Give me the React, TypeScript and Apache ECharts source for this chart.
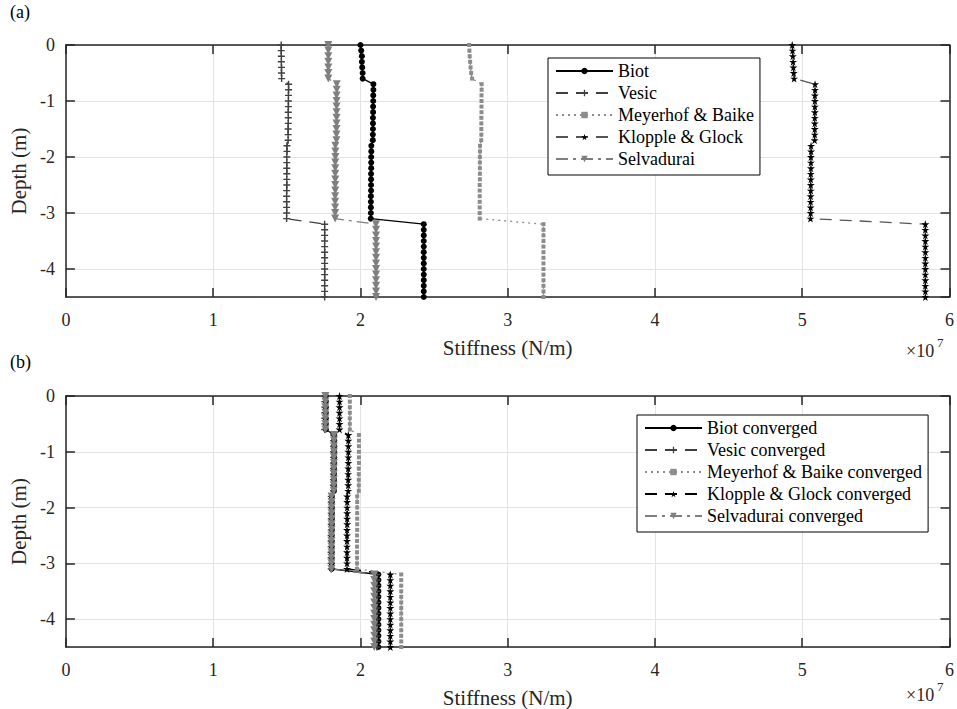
import React, { useEffect, useRef } from "react";
import * as echarts from "echarts";

// Depth of each node (m)
const DEPTHS = [
  0, -0.1, -0.2, -0.3, -0.4, -0.5, -0.6,
  -0.7, -0.8, -0.9, -1.0, -1.1, -1.2, -1.3, -1.4, -1.5, -1.6, -1.7,
  -1.8, -1.9, -2.0, -2.1, -2.2, -2.3, -2.4, -2.5, -2.6, -2.7, -2.8, -2.9, -3.0, -3.1,
  -3.2, -3.3, -3.4, -3.5, -3.6, -3.7, -3.8, -3.9, -4.0, -4.1, -4.2, -4.3, -4.4, -4.5,
];

// Panel (a) stiffness (x 1e7 N/m)
const BIOT = [
  2.0, 2.005, 2.01, 2.01, 2.012, 2.015, 2.015,
  2.088, 2.088, 2.087, 2.087, 2.086, 2.086, 2.085, 2.085, 2.085, 2.084, 2.084,
  2.074, 2.074, 2.073, 2.073, 2.073, 2.072, 2.072, 2.072, 2.072, 2.071, 2.071, 2.071, 2.071, 2.07,
  2.43, 2.43, 2.43, 2.43, 2.43, 2.43, 2.43, 2.43, 2.43, 2.43, 2.43, 2.43, 2.43, 2.43,
];
const VESIC = [
  1.462, 1.462, 1.463, 1.463, 1.464, 1.464, 1.465,
  1.512, 1.512, 1.511, 1.511, 1.511, 1.51, 1.51, 1.51, 1.509, 1.509, 1.509,
  1.501, 1.501, 1.5, 1.5, 1.5, 1.5, 1.5, 1.5, 1.499, 1.499, 1.499, 1.499, 1.499, 1.499,
  1.757, 1.757, 1.757, 1.757, 1.757, 1.757, 1.757, 1.757, 1.757, 1.757, 1.757, 1.757, 1.757, 1.757,
];
const MEYERHOF = [
  2.738, 2.74, 2.742, 2.745, 2.748, 2.752, 2.758,
  2.823, 2.823, 2.822, 2.822, 2.822, 2.822, 2.821, 2.821, 2.821, 2.821, 2.82,
  2.812, 2.812, 2.811, 2.811, 2.811, 2.811, 2.811, 2.81, 2.81, 2.81, 2.81, 2.81, 2.81, 2.81,
  3.243, 3.243, 3.243, 3.243, 3.243, 3.243, 3.243, 3.243, 3.243, 3.243, 3.243, 3.243, 3.243, 3.243,
];
const KLOPPLE = [
  4.932, 4.934, 4.936, 4.938, 4.94, 4.942, 4.945,
  5.087, 5.087, 5.086, 5.086, 5.086, 5.086, 5.085, 5.085, 5.085, 5.085, 5.084,
  5.06, 5.06, 5.059, 5.059, 5.059, 5.058, 5.058, 5.058, 5.058, 5.057, 5.057, 5.057, 5.057, 5.056,
  5.836, 5.836, 5.836, 5.836, 5.836, 5.836, 5.836, 5.836, 5.836, 5.836, 5.836, 5.836, 5.836, 5.836,
];
const SELVADURAI = [
  1.782, 1.782, 1.782, 1.782, 1.782, 1.782, 1.782,
  1.839, 1.839, 1.838, 1.838, 1.838, 1.838, 1.838, 1.838, 1.837, 1.837, 1.837,
  1.83, 1.83, 1.83, 1.829, 1.829, 1.829, 1.829, 1.829, 1.829, 1.828, 1.828, 1.828, 1.828, 1.828,
  2.106, 2.106, 2.106, 2.106, 2.106, 2.106, 2.106, 2.106, 2.106, 2.106, 2.106, 2.106, 2.106, 2.106,
];

// Panel (b) converged stiffness (x 1e7 N/m)
const BIOT_C = [
  1.765, 1.765, 1.765, 1.765, 1.765, 1.765, 1.765,
  1.822, 1.822, 1.822, 1.822, 1.822, 1.822, 1.821, 1.821, 1.821, 1.821, 1.821,
  1.806, 1.806, 1.806, 1.806, 1.806, 1.806, 1.806, 1.805, 1.805, 1.805, 1.805, 1.805, 1.805, 1.805,
  2.122, 2.122, 2.122, 2.122, 2.122, 2.122, 2.122, 2.122, 2.122, 2.122, 2.122, 2.122, 2.122, 2.122,
];
const VESIC_C = [
  1.758, 1.758, 1.758, 1.758, 1.758, 1.758, 1.758,
  1.818, 1.818, 1.818, 1.818, 1.818, 1.818, 1.817, 1.817, 1.817, 1.817, 1.817,
  1.802, 1.802, 1.802, 1.802, 1.802, 1.802, 1.802, 1.801, 1.801, 1.801, 1.801, 1.801, 1.801, 1.801,
  2.112, 2.112, 2.112, 2.112, 2.112, 2.112, 2.112, 2.112, 2.112, 2.112, 2.112, 2.112, 2.112, 2.112,
];
const MEYERHOF_C = [
  1.928, 1.928, 1.928, 1.928, 1.928, 1.928, 1.928,
  1.99, 1.99, 1.99, 1.99, 1.99, 1.99, 1.989, 1.989, 1.989, 1.989, 1.989,
  1.978, 1.978, 1.978, 1.978, 1.978, 1.978, 1.978, 1.977, 1.977, 1.977, 1.977, 1.977, 1.977, 1.977,
  2.277, 2.277, 2.277, 2.277, 2.277, 2.277, 2.277, 2.277, 2.277, 2.277, 2.277, 2.277, 2.277, 2.277,
];
const KLOPPLE_C = [
  1.858, 1.858, 1.858, 1.858, 1.858, 1.858, 1.858,
  1.918, 1.918, 1.918, 1.918, 1.918, 1.918, 1.917, 1.917, 1.917, 1.917, 1.917,
  1.91, 1.91, 1.91, 1.91, 1.91, 1.91, 1.909, 1.909, 1.909, 1.909, 1.909, 1.909, 1.909, 1.909,
  2.203, 2.203, 2.203, 2.203, 2.203, 2.203, 2.203, 2.203, 2.203, 2.203, 2.203, 2.203, 2.203, 2.203,
];
const SELVADURAI_C = [
  1.762, 1.762, 1.762, 1.762, 1.762, 1.762, 1.762,
  1.82, 1.82, 1.82, 1.82, 1.82, 1.82, 1.819, 1.819, 1.819, 1.819, 1.819,
  1.804, 1.804, 1.804, 1.804, 1.804, 1.804, 1.804, 1.803, 1.803, 1.803, 1.803, 1.803, 1.803, 1.803,
  2.094, 2.094, 2.094, 2.094, 2.094, 2.094, 2.094, 2.094, 2.094, 2.094, 2.094, 2.094, 2.094, 2.094,
];

const NAMES_A = ["Biot", "Vesic", "Meyerhof & Baike", "Klopple & Glock", "Selvadurai"];
const NAMES_B = [
  "Biot converged",
  "Vesic converged",
  "Meyerhof & Baike converged",
  "Klopple & Glock converged",
  "Selvadurai converged",
];
const X_TICKS = ["0", "1", "2", "3", "4", "5", "6"];

const FONT = "'Liberation Serif', 'Times New Roman', 'DejaVu Serif', serif";
const AXIS_COLOR = "#262626";
const PLUS = "path://M4,0h2v4h4v2h-4v4h-2v-4h-4v-2h4z";
const STAR =
  "path://M50,0 L61,35 L98,35 L68,57 L79,91 L50,70 L21,91 L32,57 L2,35 L39,35 Z";

type Style = {
  color: string;
  lineColor: string;
  type: any;
  symbol: string;
  size: number;
  rotate?: number;
};

const STYLES_A: Style[] = [
  { color: "#000000", lineColor: "#000000", type: "solid", symbol: "circle", size: 6 },
  { color: "#404040", lineColor: "#404040", type: [12, 8], symbol: PLUS, size: 7 },
  { color: "#8c8c8c", lineColor: "#8c8c8c", type: [2, 4], symbol: "rect", size: 4 },
  { color: "#000000", lineColor: "#555555", type: [12, 8], symbol: STAR, size: 8 },
  { color: "#7f7f7f", lineColor: "#7f7f7f", type: [12, 5, 3, 5], symbol: "triangle", size: 8, rotate: 180 },
];
const STYLES_B: Style[] = [
  { color: "#000000", lineColor: "#000000", type: "solid", symbol: "circle", size: 6 },
  { color: "#404040", lineColor: "#404040", type: [12, 8], symbol: PLUS, size: 7 },
  { color: "#8c8c8c", lineColor: "#8c8c8c", type: [2, 4], symbol: "rect", size: 4 },
  { color: "#000000", lineColor: "#000000", type: [12, 8], symbol: STAR, size: 8 },
  { color: "#7f7f7f", lineColor: "#7f7f7f", type: [12, 5, 3, 5], symbol: "triangle", size: 8, rotate: 180 },
];

const DATA_A = [BIOT, VESIC, MEYERHOF, KLOPPLE, SELVADURAI];
const DATA_B = [BIOT_C, VESIC_C, MEYERHOF_C, KLOPPLE_C, SELVADURAI_C];

function makeSeries(names: string[], data: number[][], styles: Style[], axisIdx: number) {
  return names.map((name, k) => ({
    type: "line",
    name,
    xAxisIndex: axisIdx,
    yAxisIndex: axisIdx,
    data: DEPTHS.map((d, i) => [data[k][i], d]),
    symbol: styles[k].symbol,
    symbolSize: styles[k].size,
    symbolRotate: styles[k].rotate || 0,
    showAllSymbol: true,
    itemStyle: { color: styles[k].color },
    lineStyle: { color: styles[k].lineColor, width: 1.3, type: styles[k].type },
    emphasis: { disabled: true },
    z: 3,
  }));
}

function xAxes(grid: number) {
  return [
    {
      type: "value",
      gridIndex: grid,
      position: "bottom",
      min: 0,
      max: 6,
      interval: 1,
      axisLine: { show: true, onZero: false, lineStyle: { color: AXIS_COLOR, width: 1.5 } },
      axisTick: { show: true, inside: true, length: 9, lineStyle: { color: AXIS_COLOR, width: 1.5 } },
      axisLabel: {
        color: AXIS_COLOR,
        fontFamily: FONT,
        fontSize: 18,
        margin: 14,
        formatter: (v: number) => X_TICKS[Math.round(v)],
      },
      splitLine: { show: true, lineStyle: { color: "#e3e3e3", width: 1 } },
      name: "Stiffness (N/m)",
      nameLocation: "middle",
      nameGap: 40,
      nameTextStyle: { color: AXIS_COLOR, fontFamily: FONT, fontSize: 21 },
    },
    {
      type: "value",
      gridIndex: grid,
      position: "top",
      min: 0,
      max: 6,
      interval: 1,
      axisLine: { show: true, onZero: false, lineStyle: { color: AXIS_COLOR, width: 1.5 } },
      axisTick: { show: true, inside: true, length: 9, lineStyle: { color: AXIS_COLOR, width: 1.5 } },
      axisLabel: { show: false },
      splitLine: { show: false },
    },
  ];
}

function yAxes(grid: number) {
  return [
    {
      type: "value",
      gridIndex: grid,
      position: "left",
      min: -4.5,
      max: 0,
      splitNumber: 5,
      axisLine: { show: true, onZero: false, lineStyle: { color: AXIS_COLOR, width: 1.5 } },
      axisTick: { show: true, inside: true, length: 9, lineStyle: { color: AXIS_COLOR, width: 1.5 } },
      axisLabel: {
        color: AXIS_COLOR,
        fontFamily: FONT,
        fontSize: 18,
        margin: 11,
        showMinLabel: false,
      },
      splitLine: { show: true, lineStyle: { color: "#e3e3e3", width: 1 } },
      name: "Depth (m)",
      nameLocation: "middle",
      nameGap: 32,
      nameRotate: 90,
      nameTextStyle: { color: AXIS_COLOR, fontFamily: FONT, fontSize: 21 },
    },
    {
      type: "value",
      gridIndex: grid,
      position: "right",
      min: -4.5,
      max: 0,
      splitNumber: 5,
      axisLine: { show: true, onZero: false, lineStyle: { color: AXIS_COLOR, width: 1.5 } },
      axisTick: { show: true, inside: true, length: 9, lineStyle: { color: AXIS_COLOR, width: 1.5 } },
      axisLabel: { show: false },
      splitLine: { show: false },
    },
  ];
}

function legend(names: string[], left: number, top: number, gap: number) {
  return {
    data: names,
    orient: "vertical",
    left,
    top,
    itemWidth: 57,
    itemHeight: 8,
    itemGap: gap,
    padding: [4, 6, 7, 7],
    backgroundColor: "#ffffff",
    borderColor: "#000000",
    borderWidth: 1,
    borderRadius: 0,
    selectedMode: false,
    textStyle: { color: "#000000", fontFamily: FONT, fontSize: 18, lineHeight: 18, padding: [0, 0, 0, 0] },
  };
}

export default function App() {
  const ref = useRef<HTMLDivElement>(null);
  useEffect(() => {
    if (!ref.current) return;
    const chart = echarts.init(ref.current, null, { renderer: "svg" });
    const ax = xAxes(0);
    const bx = xAxes(1);
    const ay = yAxes(0);
    const by = yAxes(1);
    chart.setOption({
      animation: false,
      backgroundColor: "#ffffff",
      textStyle: { fontFamily: FONT },
      grid: [
        { left: 64, top: 45, width: 888, height: 252 },
        { left: 64, top: 396, width: 888, height: 252 },
      ],
      xAxis: [ax[0], bx[0], ax[1], bx[1]],
      yAxis: [ay[0], by[0], ay[1], by[1]],
      legend: [legend(NAMES_A, 548, 58, 4), legend(NAMES_B, 637, 415, 4)],
      series: [
        ...makeSeries(NAMES_A, DATA_A, STYLES_A, 0),
        ...makeSeries(NAMES_B, DATA_B, STYLES_B, 1),
      ],
      graphic: [
        { type: "text", left: 10, top: 3, style: { text: "(a)", fontFamily: FONT, fontSize: 18, fill: "#000" } },
        { type: "text", left: 10, top: 353, style: { text: "(b)", fontFamily: FONT, fontSize: 18, fill: "#000" } },
        { type: "text", x: 906, y: 342, style: { text: "×10", fontFamily: FONT, fontSize: 18, fill: AXIS_COLOR } },
        { type: "text", x: 937, y: 336, style: { text: "7", fontFamily: FONT, fontSize: 13, fill: AXIS_COLOR } },
        { type: "text", x: 906, y: 686, style: { text: "×10", fontFamily: FONT, fontSize: 18, fill: AXIS_COLOR } },
        { type: "text", x: 937, y: 680, style: { text: "7", fontFamily: FONT, fontSize: 13, fill: AXIS_COLOR } },
      ],
    });
    return () => chart.dispose();
  }, []);
  return (
    <div
      ref={ref}
      style={{ position: "fixed", left: 0, top: 0, width: 957, height: 709, background: "#fff", fontFamily: FONT }}
    />
  );
}
